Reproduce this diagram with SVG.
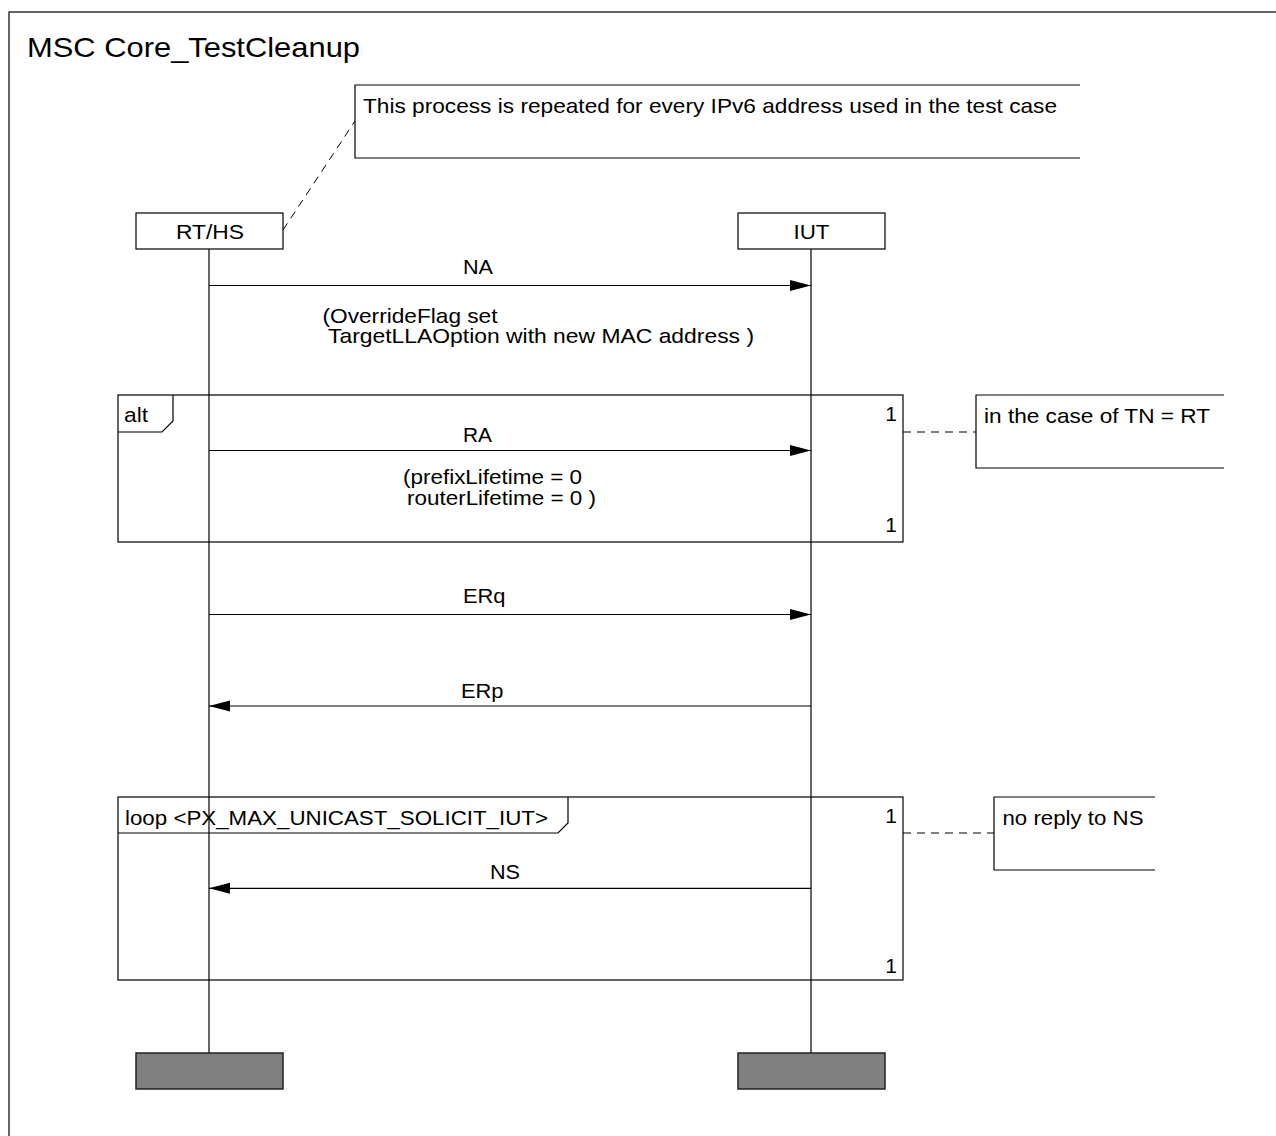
<svg xmlns="http://www.w3.org/2000/svg" width="1276" height="1136" viewBox="0 0 1276 1136">
  <defs>
    <style>
      text { font-family: "Liberation Sans", Arial, sans-serif; font-size: 21px; fill: #000; }
      .title { font-size: 28px; }
      .ln { stroke: #000; stroke-width: 1.2; fill: none; }
      .box { stroke: #000; stroke-width: 1.2; fill: #fff; }
      .dash { stroke: #000; stroke-width: 1; stroke-dasharray: 8 6; fill: none; }
      .end { stroke: #222; stroke-width: 1.5; fill: #808080; }
    </style>
    <marker id="ah" markerWidth="21" markerHeight="12" refX="21" refY="6" orient="auto" markerUnits="userSpaceOnUse">
      <path d="M0,0.5 L21,6 L0,11.5 Z" fill="#000"/>
    </marker>
  </defs>
  <rect width="1276" height="1136" fill="#fff"/>

  <!-- diagram frame and heading -->
  <rect x="9" y="12" width="1300" height="1200" class="ln"/>
  <text class="title" x="27" y="57" textLength="333" lengthAdjust="spacingAndGlyphs">MSC Core_TestCleanup</text>

  <!-- comment on the whole procedure -->
  <g id="note-repeat">
    <path class="ln" d="M1080,85 H355 V158 H1080"/>
    <text x="363" y="113" textLength="694" lengthAdjust="spacingAndGlyphs">This process is repeated for every IPv6 address used in the test case</text>
  </g>

  <!-- instances -->
  <g id="inst-rths">
    <rect class="box" x="136" y="213" width="147" height="36"/>
    <text x="176" y="239" textLength="68" lengthAdjust="spacingAndGlyphs">RT/HS</text>
    <line class="ln" x1="209" y1="249" x2="209" y2="1053"/>
    <rect class="end" x="136" y="1053" width="147" height="36"/>
  </g>
  <g id="inst-iut">
    <rect class="box" x="738" y="213" width="147" height="36"/>
    <text x="793.5" y="239" textLength="36" lengthAdjust="spacingAndGlyphs">IUT</text>
    <line class="ln" x1="811" y1="249" x2="811" y2="1053"/>
    <rect class="end" x="738" y="1053" width="147" height="36"/>
  </g>

  <!-- alt inline expression -->
  <g id="frame-alt">
    <rect class="ln" x="118" y="395" width="785" height="147"/>
    <path class="ln" d="M118,432 H162 L173,421 V395"/>
    <text x="124" y="422" textLength="24" lengthAdjust="spacingAndGlyphs">alt</text>
    <text x="897" y="421" text-anchor="end">1</text>
    <text x="897" y="532" text-anchor="end">1</text>
  </g>
  <g id="note-alt">
    <path class="ln" d="M1224,395 H976 V468 H1224"/>
    <text x="984" y="423" textLength="226" lengthAdjust="spacingAndGlyphs">in the case of TN = RT</text>
  </g>

  <!-- loop inline expression -->
  <g id="frame-loop">
    <rect class="ln" x="118" y="797" width="785" height="183"/>
    <path class="ln" d="M118,833 H558 L568,823 V797"/>
    <text x="125" y="825" textLength="423" lengthAdjust="spacingAndGlyphs">loop &lt;PX_MAX_UNICAST_SOLICIT_IUT&gt;</text>
    <text x="897" y="823" text-anchor="end">1</text>
    <text x="897" y="973" text-anchor="end">1</text>
  </g>
  <g id="note-loop">
    <path class="ln" d="M1155,797 H994 V870 H1155"/>
    <text x="1002.5" y="825" textLength="141" lengthAdjust="spacingAndGlyphs">no reply to NS</text>
  </g>

  <!-- messages and comment links -->
  <g id="connectors">
    <line class="dash" x1="283" y1="230" x2="355" y2="121"/>
    <line class="dash" x1="903" y1="432" x2="976" y2="432"/>
    <line class="dash" x1="903" y1="833" x2="994" y2="833"/>

    <line class="ln" x1="209" y1="285.5" x2="811" y2="285.5" marker-end="url(#ah)"/>
    <text x="463" y="274" textLength="30" lengthAdjust="spacingAndGlyphs">NA</text>
    <text x="322.5" y="322.5" textLength="175" lengthAdjust="spacingAndGlyphs">(OverrideFlag set</text>
    <text x="328" y="343" textLength="426" lengthAdjust="spacingAndGlyphs">TargetLLAOption with new MAC address )</text>

    <line class="ln" x1="209" y1="450.5" x2="811" y2="450.5" marker-end="url(#ah)"/>
    <text x="463" y="441.5" textLength="29" lengthAdjust="spacingAndGlyphs">RA</text>
    <text x="403" y="484" textLength="179" lengthAdjust="spacingAndGlyphs">(prefixLifetime = 0</text>
    <text x="407" y="505" textLength="189" lengthAdjust="spacingAndGlyphs">routerLifetime = 0 )</text>

    <line class="ln" x1="209" y1="614.5" x2="811" y2="614.5" marker-end="url(#ah)"/>
    <text x="463" y="603" textLength="42.5" lengthAdjust="spacingAndGlyphs">ERq</text>

    <line class="ln" x1="811" y1="706" x2="209" y2="706" marker-end="url(#ah)"/>
    <text x="461" y="698" textLength="42.5" lengthAdjust="spacingAndGlyphs">ERp</text>

    <line class="ln" x1="811" y1="888.3" x2="209" y2="888.3" marker-end="url(#ah)"/>
    <text x="490" y="879" textLength="30" lengthAdjust="spacingAndGlyphs">NS</text>
  </g>
</svg>
